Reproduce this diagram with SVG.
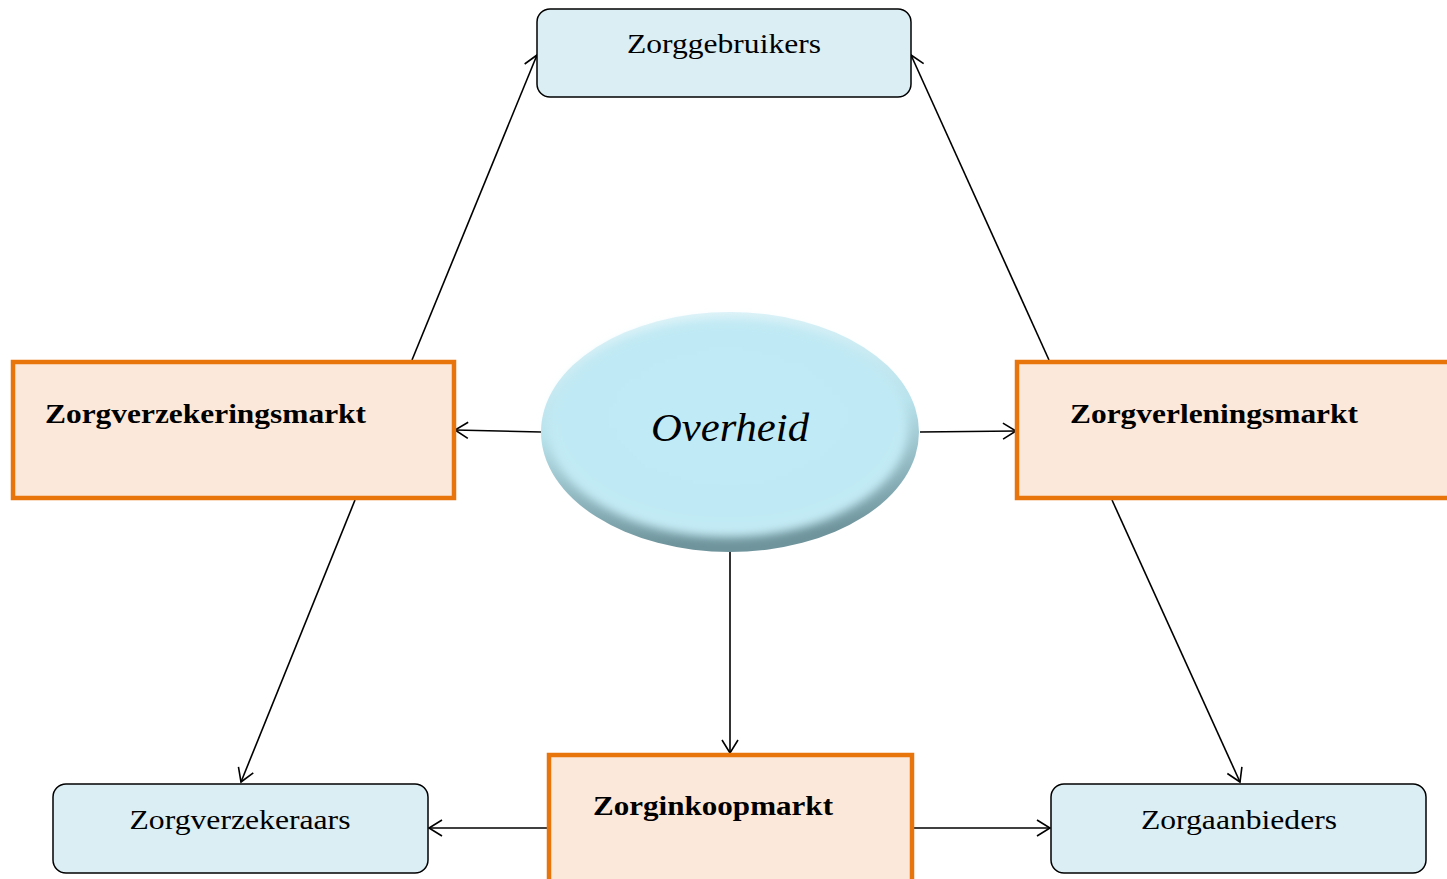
<svg xmlns="http://www.w3.org/2000/svg" width="1447" height="879" viewBox="0 0 1447 879">
<style>
.actor{fill:#dbeef4;stroke:#000;stroke-width:1.5}
.market{fill:#fce8da;stroke:#e8750b;stroke-width:4.5}
.lbl{font-family:"Liberation Serif","DejaVu Serif",serif;font-size:28px;fill:#000}
.mlbl{font-family:"Liberation Serif","DejaVu Serif",serif;font-size:28px;font-weight:bold;fill:#000}
.edge{stroke:#000;stroke-width:1.6;fill:none;marker-end:url(#arr)}
</style>
<defs>
<marker id="arr" viewBox="0 0 16 20" refX="14" refY="10" markerWidth="16" markerHeight="20" markerUnits="userSpaceOnUse" orient="auto">
<path d="M1,2 L14,10 L1,18" fill="none" stroke="#000" stroke-width="1.6"/>
</marker>
<linearGradient id="eg" x1="0" y1="0" x2="0.15" y2="1">
<stop offset="0" stop-color="#e4f6fa"/>
<stop offset="0.5" stop-color="#b8e2ec"/>
<stop offset="1" stop-color="#6f949c"/>
</linearGradient>
<radialGradient id="ig" cx="0.5" cy="0.45" r="0.55">
<stop offset="0" stop-color="#c0eaf5"/>
<stop offset="0.85" stop-color="#bfe9f4"/>
<stop offset="1" stop-color="#c6ecf5"/>
</radialGradient>
<filter id="blur" x="-10%" y="-10%" width="120%" height="120%"><feGaussianBlur stdDeviation="5"/></filter>
</defs>
<g id="connectors">
<line class="edge" x1="412" y1="360" x2="537" y2="55"/>
<line class="edge" x1="1049" y1="360" x2="911" y2="55"/>
<line class="edge" x1="541" y1="432" x2="455" y2="430"/>
<line class="edge" x1="920" y1="432" x2="1016" y2="431"/>
<line class="edge" x1="355" y1="500" x2="241" y2="782"/>
<line class="edge" x1="1112" y1="500" x2="1240" y2="782"/>
<line class="edge" x1="730" y1="552" x2="730" y2="753"/>
<line class="edge" x1="548" y1="828" x2="429" y2="828"/>
<line class="edge" x1="913" y1="828" x2="1050" y2="828"/>
</g>
<g id="zorggebruikers">
<rect class="actor" x="537" y="9" width="374" height="88" rx="13"/>
<text class="lbl" x="724" y="53" text-anchor="middle" textLength="194" lengthAdjust="spacingAndGlyphs">Zorggebruikers</text>
</g>
<g id="zorgverzekeringsmarkt">
<rect class="market" x="13" y="362" width="441" height="136"/>
<text class="mlbl" x="45" y="423" textLength="321" lengthAdjust="spacingAndGlyphs">Zorgverzekeringsmarkt</text>
</g>
<g id="zorgverleningsmarkt">
<rect class="market" x="1017" y="362" width="440" height="136"/>
<text class="mlbl" x="1070" y="423" textLength="288" lengthAdjust="spacingAndGlyphs">Zorgverleningsmarkt</text>
</g>
<g id="overheid">
<ellipse cx="730" cy="432" rx="189" ry="120" fill="url(#eg)"/>
<ellipse cx="728" cy="428" rx="180" ry="109" fill="url(#ig)" filter="url(#blur)"/>
<text x="730" y="441" text-anchor="middle" font-family="'Liberation Serif','DejaVu Serif',serif" font-style="italic" font-size="41" fill="#000" textLength="158" lengthAdjust="spacingAndGlyphs">Overheid</text>
</g>
<g id="zorginkoopmarkt">
<rect class="market" x="549" y="755" width="363" height="135"/>
<text class="mlbl" x="593" y="815" textLength="240" lengthAdjust="spacingAndGlyphs">Zorginkoopmarkt</text>
</g>
<g id="zorgverzekeraars">
<rect class="actor" x="53" y="784" width="375" height="89" rx="13"/>
<text class="lbl" x="240" y="829" text-anchor="middle" textLength="221" lengthAdjust="spacingAndGlyphs">Zorgverzekeraars</text>
</g>
<g id="zorgaanbieders">
<rect class="actor" x="1051" y="784" width="375" height="89" rx="13"/>
<text class="lbl" x="1239" y="829" text-anchor="middle" textLength="196" lengthAdjust="spacingAndGlyphs">Zorgaanbieders</text>
</g>
</svg>
